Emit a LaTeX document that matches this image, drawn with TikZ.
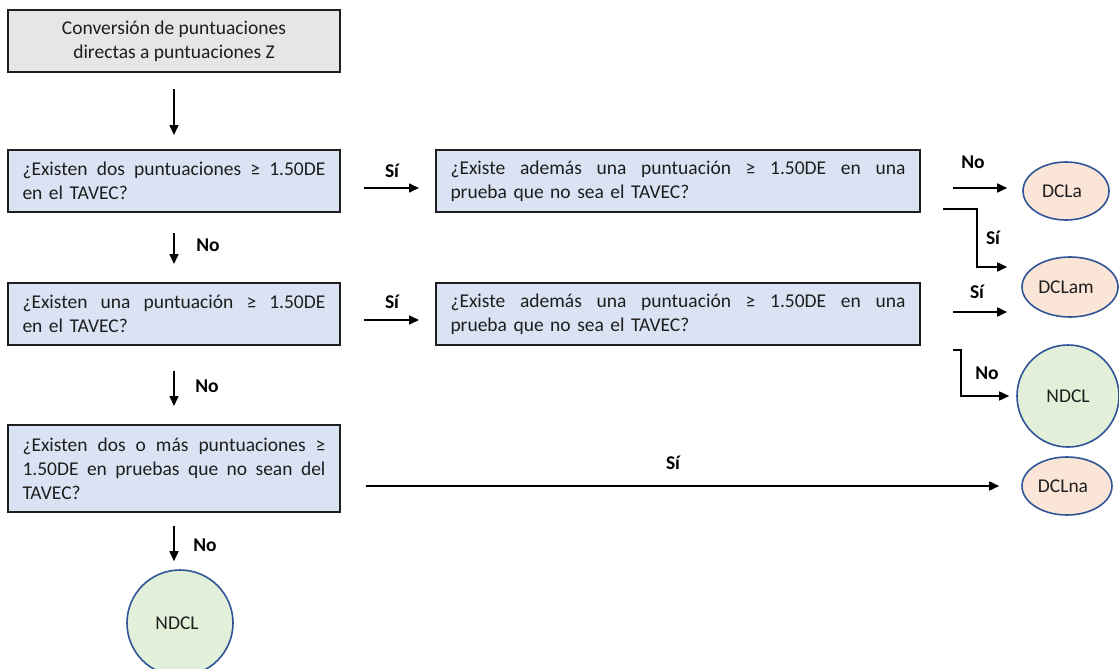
\documentclass[tikz,border=0pt]{standalone}
\usepackage{fontspec}
\setmainfont{Carlito}
\usetikzlibrary{arrows.meta,shapes.geometric}
\hyphenpenalty=10000
\exhyphenpenalty=10000

\definecolor{qfill}{HTML}{DAE3F3}
\definecolor{gfill}{HTML}{E7E6E6}
\definecolor{pfill}{HTML}{FBE5D6}
\definecolor{vfill}{HTML}{E2F0D9}
\definecolor{oline}{HTML}{2F5597}
\definecolor{ink}{HTML}{1E1E1E}

% a fully justified line of the given width (font interword glue restored)
\newcommand{\jline}[2]{{\spaceskip=0pt\xspaceskip=0pt\makebox[#1][s]{#2}}}

\begin{document}
\begin{tikzpicture}[x=1pt,y=-1pt,
  txt/.style={font=\fontsize{19.5}{24}\selectfont, text=ink},
  lbl/.style={font=\fontsize{19.5}{24}\selectfont\bfseries, text=black},
  boxbase/.style={rectangle, draw=ink, line width=2pt, inner xsep=0pt, inner ysep=0pt, txt},
  startbox/.style={boxbase, fill=gfill, minimum width=332pt, minimum height=62pt, align=center},
  qbox/.style={boxbase, fill=qfill, minimum height=62pt, align=left},
  outcome/.style={ellipse, draw=oline, line width=1.6pt, inner sep=0pt, txt},
  dcl/.style={outcome, fill=pfill},
  ndcl/.style={outcome, fill=vfill},
  arr/.style={line width=1.6pt, draw=black, -{Triangle[length=10pt,width=9pt]}}
]
\useasboundingbox (0,0) rectangle (1119,669);

% question column
\node[startbox] (start) at (174,41) {Conversión de puntuaciones\\directas a puntuaciones Z};

\node[qbox, minimum width=332pt, text width=303pt] (q1) at (174,181)
  {\jline{303pt}{¿Existen dos puntuaciones ≥ 1.50DE}\\en el TAVEC?};
\node[qbox, minimum width=332pt, text width=303pt] (q2) at (174,314)
  {\jline{303pt}{¿Existen una puntuación ≥ 1.50DE}\\en el TAVEC?};
\node[qbox, minimum width=332pt, minimum height=87pt, text width=303pt] (q3) at (174,468.5)
  {\jline{303pt}{¿Existen dos o más puntuaciones ≥}\\\jline{303pt}{1.50DE en pruebas que no sean del}\\TAVEC?};

% follow-up questions
\node[qbox, minimum width=484pt, text width=455pt] (q1b) at (678,181)
  {\jline{455pt}{¿Existe además una puntuación ≥ 1.50DE en una}\\prueba que no sea el TAVEC?};
\node[qbox, minimum width=484pt, text width=455pt] (q2b) at (678,314)
  {\jline{455pt}{¿Existe además una puntuación ≥ 1.50DE en una}\\prueba que no sea el TAVEC?};

% outcomes
\node[dcl, minimum width=86pt, minimum height=58pt] (dcla) at (1066,191) {DCLa\hspace*{8pt}};
\node[dcl, minimum width=96pt, minimum height=60pt] (dclam) at (1070,287) {DCLam\hspace*{8pt}};
\node[ndcl, minimum width=102pt, minimum height=102pt] (ndclr) at (1068,396) {NDCL};
\node[dcl, minimum width=90pt, minimum height=58pt] (dclna) at (1067,486) {DCLna\hspace*{8pt}};
\node[ndcl, minimum width=106pt, minimum height=106pt] (ndclb) at (180,623) {NDCL\hspace*{6pt}};

% vertical flow
\draw[arr, shorten <=16pt, shorten >=14pt] (start) -- (start.south |- q1.north);
\draw[arr, shorten <=20pt, shorten >=18pt] (q1) -- (q1.south |- q2.north);
\node[lbl] at (208,245) {No};
\draw[arr, shorten <=25pt, shorten >=18pt] (q2) -- (q2.south |- q3.north);
\node[lbl] at (207,386) {No};
\draw[arr, shorten <=13pt, shorten >=8pt] (q3.south) -- (q3.south |- ndclb.north);
\node[lbl] at (205,545) {No};

% horizontal flow
\draw[arr, shorten <=23pt, shorten >=16pt] (q1.east |- 0,188) -- (q1b.west |- 0,188);
\node[lbl] at (392,171) {Sí};
\draw[arr, shorten <=23pt, shorten >=16pt] (q2.east |- 0,320) -- (q2b.west |- 0,320);
\node[lbl] at (392,302) {Sí};
\draw[arr, shorten <=25pt, shorten >=22pt] (q3.east |- dclna) -- (dclna.west);
\node[lbl] at (673,463) {Sí};

% branches of the follow-up questions
\draw[arr, shorten <=32pt, shorten >=15pt] (q1b.east |- 0,188) -- (dcla.west |- 0,188);
\node[lbl] at (973,162) {No};

\coordinate (e1) at (943,209);
\draw[arr, shorten >=14pt] (e1) -| (977,267) -- (dclam.west |- 0,267);
\node[lbl] at (993,238) {Sí};

\draw[arr, shorten <=32pt, shorten >=14pt] (q2b.east |- 0,312) -- (dclam.west |- 0,312);
\node[lbl] at (977,292) {Sí};

\coordinate (e2) at (953,350);
\draw[arr, shorten >=7pt] (e2) -- (961,350) |- (ndclr.west);
\node[lbl] at (987,373) {No};
\end{tikzpicture}
\end{document}
